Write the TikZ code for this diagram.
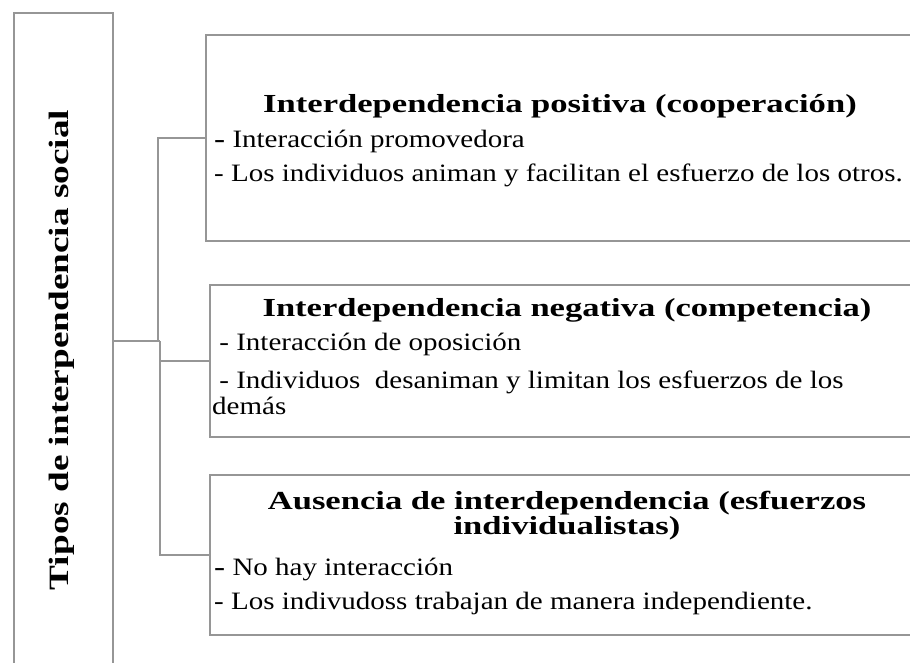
\documentclass[tikz,border=0pt]{standalone}
\usepackage{fontspec}
\setmainfont{Liberation Serif}[FakeStretch=1.16, BoldFeatures={FakeStretch=1.33}]
\usetikzlibrary{positioning}
\definecolor{linea}{RGB}{150,150,150}
\tikzset{
  caja/.style={rectangle, draw=linea, line width=1.6pt, inner sep=0pt, anchor=north west},
  conector/.style={draw=linea, line width=1.6pt},
  rotulo/.style={font=\bfseries\fontsize{28}{30}\selectfont, rotate=90, inner sep=0pt},
  titulo/.style={font=\bfseries\fontsize{26}{25}\selectfont, anchor=base, align=center, inner sep=0pt},
  vineta/.style={font=\fontsize{25}{25}\selectfont, anchor=base west, inner sep=0pt}
}

\begin{document}
\begin{tikzpicture}[x=1pt,y=-1pt]
            \useasboundingbox (0,0) rectangle (910,663);
            \clip (0,0) rectangle (910,663);

            % Cajas
            \node[caja, minimum width=99pt, minimum height=720pt] (tipos) at (13,12) {};
            \node[caja, minimum width=720pt, minimum height=206pt] (c1) at (205,34) {};
            \node[caja, minimum width=720pt, minimum height=152pt] (c2) at (209,284) {};
            \node[caja, minimum width=720pt, minimum height=160pt] (c3) at (209,474) {};

            % Textos
            \node[rotulo] (ttipos) at (62,350) {Tipos de interpendencia social};

            \node[titulo] (t1) at (560,113) {Interdependencia positiva (cooperación)};
            \node[vineta] (p1a) at (214,148) {\textbf{-} Interacción promovedora};
            \node[vineta] (p1b) at (214,182) {- Los individuos animan y facilitan el esfuerzo de los otros.};

            \node[titulo] (t2) at (567,316) {Interdependencia negativa (competencia)};
            \node[vineta] (p2a) at (212,350) {\ - Interacción de oposición};
            \node[vineta] (p2b) at (212,388) {\ - Individuos\ \ desaniman y limitan los esfuerzos de los};
            \node[vineta] (p2c) at (212,414) {demás};

            \node[titulo] (t3) at (567,534) {Ausencia de interdependencia (esfuerzos\\individualistas)};
            \node[vineta] (p3a) at (214,575) {\textbf{-} No hay interacción};
            \node[vineta] (p3b) at (214,609) {- Los indivudoss trabajan de manera independiente.};

            % Conectores
            \coordinate (raiz) at (112,341);
            \coordinate (eje) at (160,341);
            \coordinate (codo) at (158,341);
            \draw[conector] (raiz) -- (eje);
            \draw[conector] (c1.west) -| (codo);
            \draw[conector] (c2.west) -| (eje);
            \draw[conector] (c3.west) -| (eje);
        \end{tikzpicture}
\end{document}
